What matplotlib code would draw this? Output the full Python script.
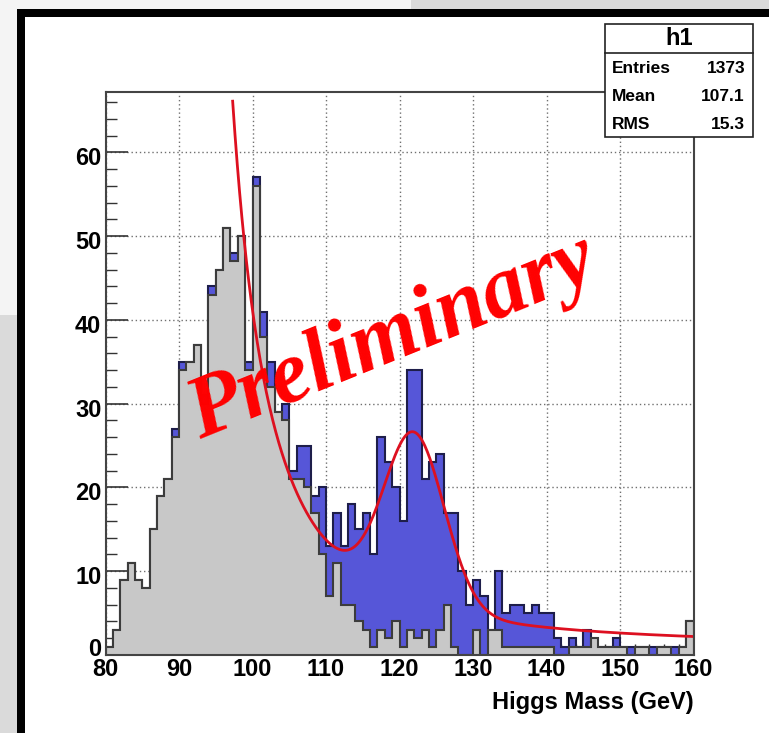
import numpy as np
import matplotlib.pyplot as plt
from matplotlib.patches import Rectangle
from matplotlib.ticker import MultipleLocator
from matplotlib.transforms import ScaledTranslation

W, H = 769, 733

mass_lo, mass_hi = 80, 160
# events per 1 GeV bin, 80 -> 160 GeV
total_counts = [1, 3, 9, 11, 9, 8, 15, 19, 21, 27,
                35, 35, 37, 31, 44, 46, 51, 48, 50, 35,
                57, 41, 35, 29, 30, 22, 25, 25, 19, 20,
                13, 17, 13, 18, 15, 17, 12, 26, 23, 20,
                16, 34, 34, 21, 23, 24, 17, 17, 10, 6,
                9, 7, 3, 10, 5, 6, 6, 5, 6, 5,
                5, 2, 1, 2, 1, 3, 1, 1, 1, 2,
                1, 1, 1, 1, 1, 1, 1, 1, 1, 4]
background_counts = [1, 3, 9, 11, 9, 8, 15, 19, 21, 26,
                     34, 35, 37, 30, 43, 46, 51, 47, 50, 34,
                     56, 38, 32, 29, 28, 21, 21, 20, 17, 12,
                     7, 11, 6, 6, 4, 3, 1, 3, 2, 4,
                     1, 3, 2, 3, 1, 3, 6, 1, 0, 0,
                     3, 0, 3, 3, 1, 1, 1, 1, 1, 1,
                     1, 0, 0, 1, 1, 1, 2, 1, 1, 1,
                     1, 0, 1, 1, 0, 1, 1, 0, 1, 4]

# fit result: power-law falloff + constant, plus gaussian peak
fit_bkg = [6355.0, 87.42, 1.0]   # norm, offset, constant
fit_peak = [20.3, 122.0, 4.1]    # height, mean, sigma
fit_range = [97.3, 160.0]

stats_title = "h1"
stats_labels = ["Entries", "Mean", "RMS"]
stats_values = ["1373", "107.1", "15.3"]


def fit_func(x):
    norm, off, const = fit_bkg
    height, mean, sigma = fit_peak
    return norm / (x - off) ** 2 + const + height * np.exp(-0.5 * ((x - mean) / sigma) ** 2)


def fx(px):
    return px / W


def fy(py):
    return 1 - py / H


fig = plt.figure(figsize=(W / 100, H / 100), dpi=100, facecolor='white')

# slide background and black frame
for x0, y0, w, h, c in [(0, 0, 411, 9, '#f4f4f4'), (411, 0, W - 411, 9, '#dadada'),
                        (0, 0, 17, 315, '#f4f4f4'), (0, 315, 17, H - 315, '#dadada'),
                        (17, 9, W - 17, 8, 'black'), (17, 9, 8, H - 9, 'black')]:
    fig.patches.append(Rectangle((fx(x0), fy(y0 + h)), w / W, h / H, transform=fig.transFigure,
                                 facecolor=c, edgecolor='none', zorder=0))

ax = fig.add_axes([fx(105.5), fy(655), (693.5 - 105.5) / W, (655 - 92) / H])
edges = np.arange(mass_lo, mass_hi + 1)

ax.stairs(total_counts, edges, fill=True, facecolor='#5656d8', edgecolor='none', zorder=1.0)
ax.stairs(total_counts, edges, color='#1e1e4a', linewidth=1.5, zorder=1.1)
ax.stairs(background_counts, edges, fill=True, facecolor='#c8c8c8', edgecolor='none', zorder=1.2)
ax.stairs(background_counts, edges, color='#3c3c3c', linewidth=1.5, zorder=1.3)

xs = np.linspace(fit_range[0], fit_range[1], 600)
ax.plot(xs, fit_func(xs), color='#dd1020', linewidth=2.0, zorder=1.5)

ax.set_xlim(mass_lo, mass_hi)
ax.set_ylim(0, 67.2)
ax.set_axisbelow(True)
ax.grid(True, color='#707070', linestyle=(0, (1, 2)), linewidth=1.0)
ax.xaxis.set_major_locator(MultipleLocator(10))
ax.xaxis.set_minor_locator(MultipleLocator(2))
ax.yaxis.set_major_locator(MultipleLocator(10))
ax.yaxis.set_minor_locator(MultipleLocator(2))
ax.tick_params(which='both', direction='in', top=False, right=False, color='#333333')
ax.tick_params(which='major', length=16, width=1.2)
ax.tick_params(which='minor', length=8, width=1.0)
ax.tick_params(axis='y', pad=3)
ax.tick_params(axis='x', pad=2)
for lab in ax.get_xticklabels() + ax.get_yticklabels():
    lab.set_fontfamily('Liberation Sans')
    lab.set_fontweight('bold')
    lab.set_fontsize(17)
for sp in ax.spines.values():
    sp.set_color('#444444')
    sp.set_linewidth(1.5)

# y labels sit a little below their ticks; the zero is lifted clear of the x labels
fig.canvas.draw()
for tick in ax.yaxis.get_major_ticks():
    dy = 8 if abs(tick.get_loc()) < 1e-9 else -4
    lab = tick.label1
    lab.set_transform(lab.get_transform() + ScaledTranslation(0, dy / 100, fig.dpi_scale_trans))

fig.text(fx(693.5), fy(703), "Higgs Mass (GeV)", ha='right', va='center',
         fontsize=17, fontweight='bold', family='Liberation Sans')

fig.text(fx(392), fy(338), "Preliminary", ha='center', va='center', rotation=22,
         rotation_mode='anchor', color='#ff0000', fontsize=63, fontweight='bold',
         fontstyle='italic', family='Liberation Serif', zorder=5)

# stats box
bx0, bx1, by0, by1, bsep = 605, 752.7, 24, 136.7, 52.7
fig.patches.append(Rectangle((fx(bx0), fy(by1)), (bx1 - bx0) / W, (by1 - by0) / H,
                             transform=fig.transFigure, facecolor='white',
                             edgecolor='#222222', linewidth=1.2, zorder=6))
fig.lines.append(plt.Line2D([fx(bx0), fx(bx1)], [fy(bsep), fy(bsep)], transform=fig.transFigure,
                            color='#222222', linewidth=1.2, zorder=7))
fig.text(fx((bx0 + bx1) / 2), fy(38.5), stats_title, ha='center', va='center',
         fontsize=17, fontweight='bold', family='Liberation Sans', zorder=8)
for i, (lab, val) in enumerate(zip(stats_labels, stats_values)):
    yc = 68.5 + i * 27.8
    fig.text(fx(612), fy(yc), lab, ha='left', va='center', fontsize=12.5,
             fontweight='bold', family='Liberation Sans', zorder=8)
    fig.text(fx(745), fy(yc), val, ha='right', va='center', fontsize=12.5,
             fontweight='bold', family='Liberation Sans', zorder=8)

fig.savefig('out.png', dpi=100)
